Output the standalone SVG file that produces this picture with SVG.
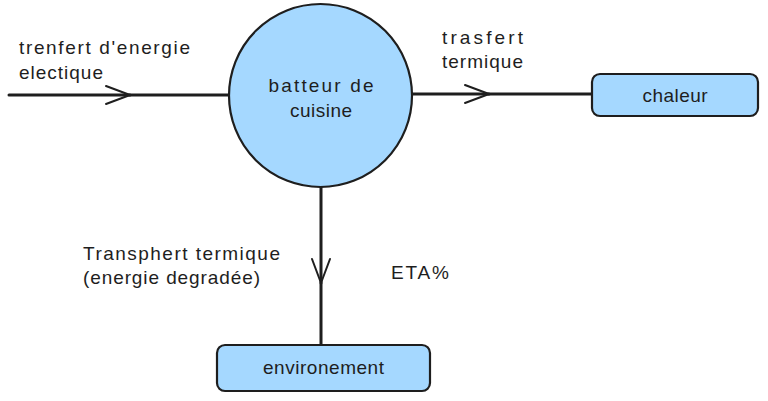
<svg xmlns="http://www.w3.org/2000/svg" width="768" height="401" viewBox="0 0 768 401">
<style>
.node{fill:#a5d8ff;stroke:#1e1e1e;stroke-width:2.2}
.conn{fill:none;stroke:#1e1e1e;stroke-width:3;stroke-linecap:round}
.t{font-family:"Liberation Sans",Arial,sans-serif;font-size:19px;fill:#1e1e1e}
.c{text-anchor:middle}
</style>
<defs>
<marker id="chev" markerUnits="userSpaceOnUse" markerWidth="40" markerHeight="30" viewBox="-30 -15 40 30" refX="0" refY="0" orient="auto">
<path d="M-24,-9 L0,0 L-24,9" fill="none" stroke="#1e1e1e" stroke-width="2" stroke-linecap="round" stroke-linejoin="round"/>
</marker>
</defs>
<rect width="768" height="401" fill="#ffffff"/>
<g id="connectors">
<path class="conn" d="M9,95 L130,95" marker-end="url(#chev)"/>
<path class="conn" d="M130,95 L229,95"/>
<path class="conn" d="M412,94 L489,94" marker-end="url(#chev)"/>
<path class="conn" d="M489,94 L592,94"/>
<path class="conn" d="M321,187 L321,283" marker-end="url(#chev)"/>
<path class="conn" d="M321,283 L321,345"/>
</g>
<g id="node-batteur">
<circle class="node" cx="320.5" cy="95.5" r="91.5"/>
<text class="t c" x="321" y="92" textLength="105">batteur de</text>
<text class="t c" x="321" y="117" textLength="62">cuisine</text>
</g>
<g id="node-chaleur">
<rect class="node" x="592" y="74" width="166" height="42" rx="8"/>
<text class="t c" x="675" y="102" textLength="65">chaleur</text>
</g>
<g id="node-environement">
<rect class="node" x="217" y="345" width="213" height="46" rx="8"/>
<text class="t c" x="323.5" y="374" textLength="121">environement</text>
</g>
<g id="labels">
<text class="t" x="19" y="54" textLength="171">trenfert d'energie</text>
<text class="t" x="19" y="79" textLength="84">electique</text>
<text class="t" x="442" y="44" textLength="81">trasfert</text>
<text class="t" x="442" y="68" textLength="81">termique</text>
<text class="t" x="83" y="260" textLength="197">Transphert termique</text>
<text class="t" x="83" y="284" textLength="177">(energie degradée)</text>
<text class="t" x="391" y="279" textLength="58">ETA%</text>
</g>
</svg>
